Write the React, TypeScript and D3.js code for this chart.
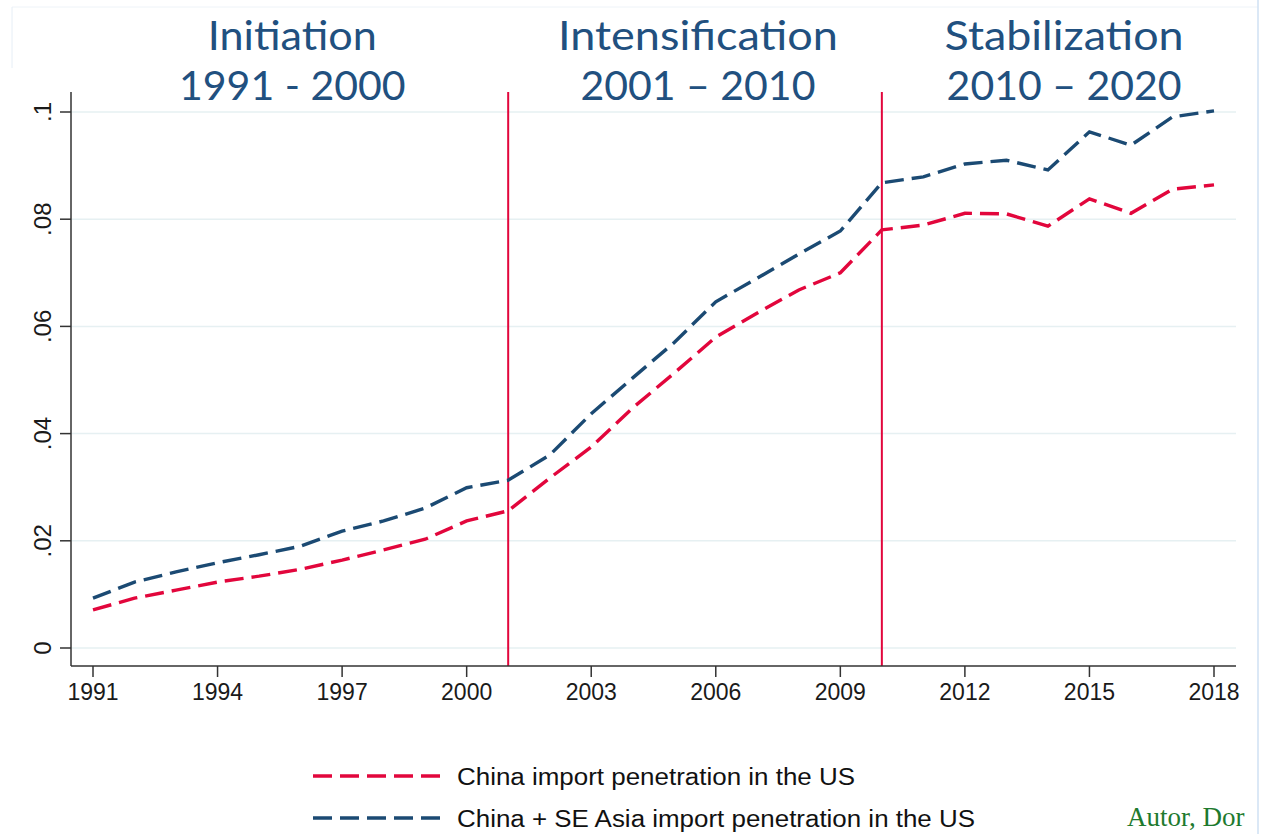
import React from "react";
import * as d3 from "d3";

const years = d3.range(1991, 2019);
const chinaSEAsia = [0.0093, 0.0123, 0.0142, 0.0159, 0.0174, 0.019, 0.0218, 0.0237, 0.0261, 0.0299, 0.0313, 0.036, 0.0437, 0.0504, 0.057, 0.0646, 0.069, 0.0735, 0.0778, 0.0868, 0.0879, 0.0903, 0.091, 0.0892, 0.0963, 0.0938, 0.0991, 0.1002];
const chinaOnly = [0.0071, 0.0093, 0.0108, 0.0123, 0.0134, 0.0147, 0.0164, 0.0183, 0.0203, 0.0237, 0.0256, 0.0317, 0.0375, 0.0448, 0.0513, 0.058, 0.0625, 0.0668, 0.07, 0.078, 0.0789, 0.0811, 0.081, 0.0787, 0.0838, 0.0811, 0.0856, 0.0864];
const xTicks = [1991, 1994, 1997, 2000, 2003, 2006, 2009, 2012, 2015, 2018];
const yTicks = [0, 0.02, 0.04, 0.06, 0.08, 0.1];
const yTickLabels = ["0", ".02", ".04", ".06", ".08", ".1"];
const phaseLines = [2001, 2010];
const phaseNames = ["Initiation", "Intensification", "Stabilization"];
const phaseRanges = ["1991 - 2000", "2001 \u2013 2010", "2010 \u2013 2020"];
const phaseCenters = [1995.8, 2005.57, 2014.39];
const phaseNameWidths = [169, 280, 239];
const legendLabels = ["China import penetration in the US", "China + SE Asia import penetration in the US"];
const legendWidths = [398, 518];

const RED = "#e2063c";
const BLUE = "#1b4a73";
const TITLE = "#21507f";

export default function App() {
  const W = 1262, H = 834;
  const x = d3.scaleLinear().domain([1991, 2018]).range([93, 1214]);
  const y = d3.scaleLinear().domain([0, 0.1]).range([648, 112]);
  const axisLeft = 71, axisBottom = 666, plotRight = 1236, plotTop = 92;
  const line = d3.line<number>().x((_, i) => x(years[i])).y((d) => y(d));
  const legendColors = [RED, BLUE];
  const sans = "Liberation Sans, Arial, sans-serif";

  return (
    <div style={{ position: "absolute", left: 0, top: 0 }}>
      <svg width={W} height={H} style={{ display: "block", background: "#fff" }}>
        <line x1={12} y1={7} x2={1258} y2={7} stroke="#eef3f8" strokeWidth={1} />
        <line x1={12} y1={7} x2={12} y2={68} stroke="#e6eef6" strokeWidth={1} />
        <line x1={1258} y1={0} x2={1258} y2={H} stroke="#cfe0f3" strokeWidth={1.5} />

        {yTicks.map((t) => (
          <line key={t} x1={axisLeft} x2={plotRight} y1={y(t)} y2={y(t)} stroke="#e6f0f2" strokeWidth={1.5} />
        ))}

        {phaseLines.map((p) => (
          <line key={p} x1={x(p)} x2={x(p)} y1={plotTop} y2={axisBottom} stroke={RED} strokeWidth={2} />
        ))}

        <path d={line(chinaSEAsia) || ""} fill="none" stroke={BLUE} strokeWidth={3.4} strokeDasharray="19 8" />
        <path d={line(chinaOnly) || ""} fill="none" stroke={RED} strokeWidth={3.4} strokeDasharray="19 8" />

        <line x1={axisLeft} x2={axisLeft} y1={plotTop} y2={axisBottom} stroke="#333" strokeWidth={1.5} />
        <line x1={axisLeft} x2={plotRight} y1={axisBottom} y2={axisBottom} stroke="#333" strokeWidth={1.5} />
        {yTicks.map((t, i) => (
          <g key={t}>
            <line x1={axisLeft - 11} x2={axisLeft} y1={y(t)} y2={y(t)} stroke="#333" strokeWidth={1.5} />
            <text transform={`translate(51,${y(t)}) rotate(-90)`} textAnchor="middle" fontFamily={sans} fontSize={24} fill="#1a1a1a">
              {yTickLabels[i]}
            </text>
          </g>
        ))}
        {xTicks.map((t) => (
          <g key={t}>
            <line x1={x(t)} x2={x(t)} y1={axisBottom} y2={axisBottom + 11} stroke="#333" strokeWidth={1.5} />
            <text x={x(t)} y={axisBottom + 34} textAnchor="middle" fontFamily={sans} fontSize={23} fill="#1a1a1a">
              {t}
            </text>
          </g>
        ))}

        {phaseNames.map((n, i) => (
          <g key={n} fontFamily="Lato, 'Noto Sans', sans-serif" fontSize={41} fill={TITLE} textAnchor="middle">
            <text x={x(phaseCenters[i])} y={50} textLength={phaseNameWidths[i]} lengthAdjust="spacingAndGlyphs">{n}</text>
            <text x={x(phaseCenters[i])} y={100}>{phaseRanges[i]}</text>
          </g>
        ))}

        {legendLabels.map((l, i) => (
          <g key={l}>
            <line x1={313} x2={440} y1={776 + i * 42} y2={776 + i * 42} stroke={legendColors[i]} strokeWidth={3.4} strokeDasharray="19 8" />
            <text x={457} y={785 + i * 42} fontFamily={sans} fontSize={23} fill="#111" textLength={legendWidths[i]} lengthAdjust="spacingAndGlyphs">
              {l}
            </text>
          </g>
        ))}

        <text x={1127} y={826} fontFamily="Liberation Serif, serif" fontSize={27} fill="#1e7a2e">
          Autor, Dor
        </text>
      </svg>
    </div>
  );
}
